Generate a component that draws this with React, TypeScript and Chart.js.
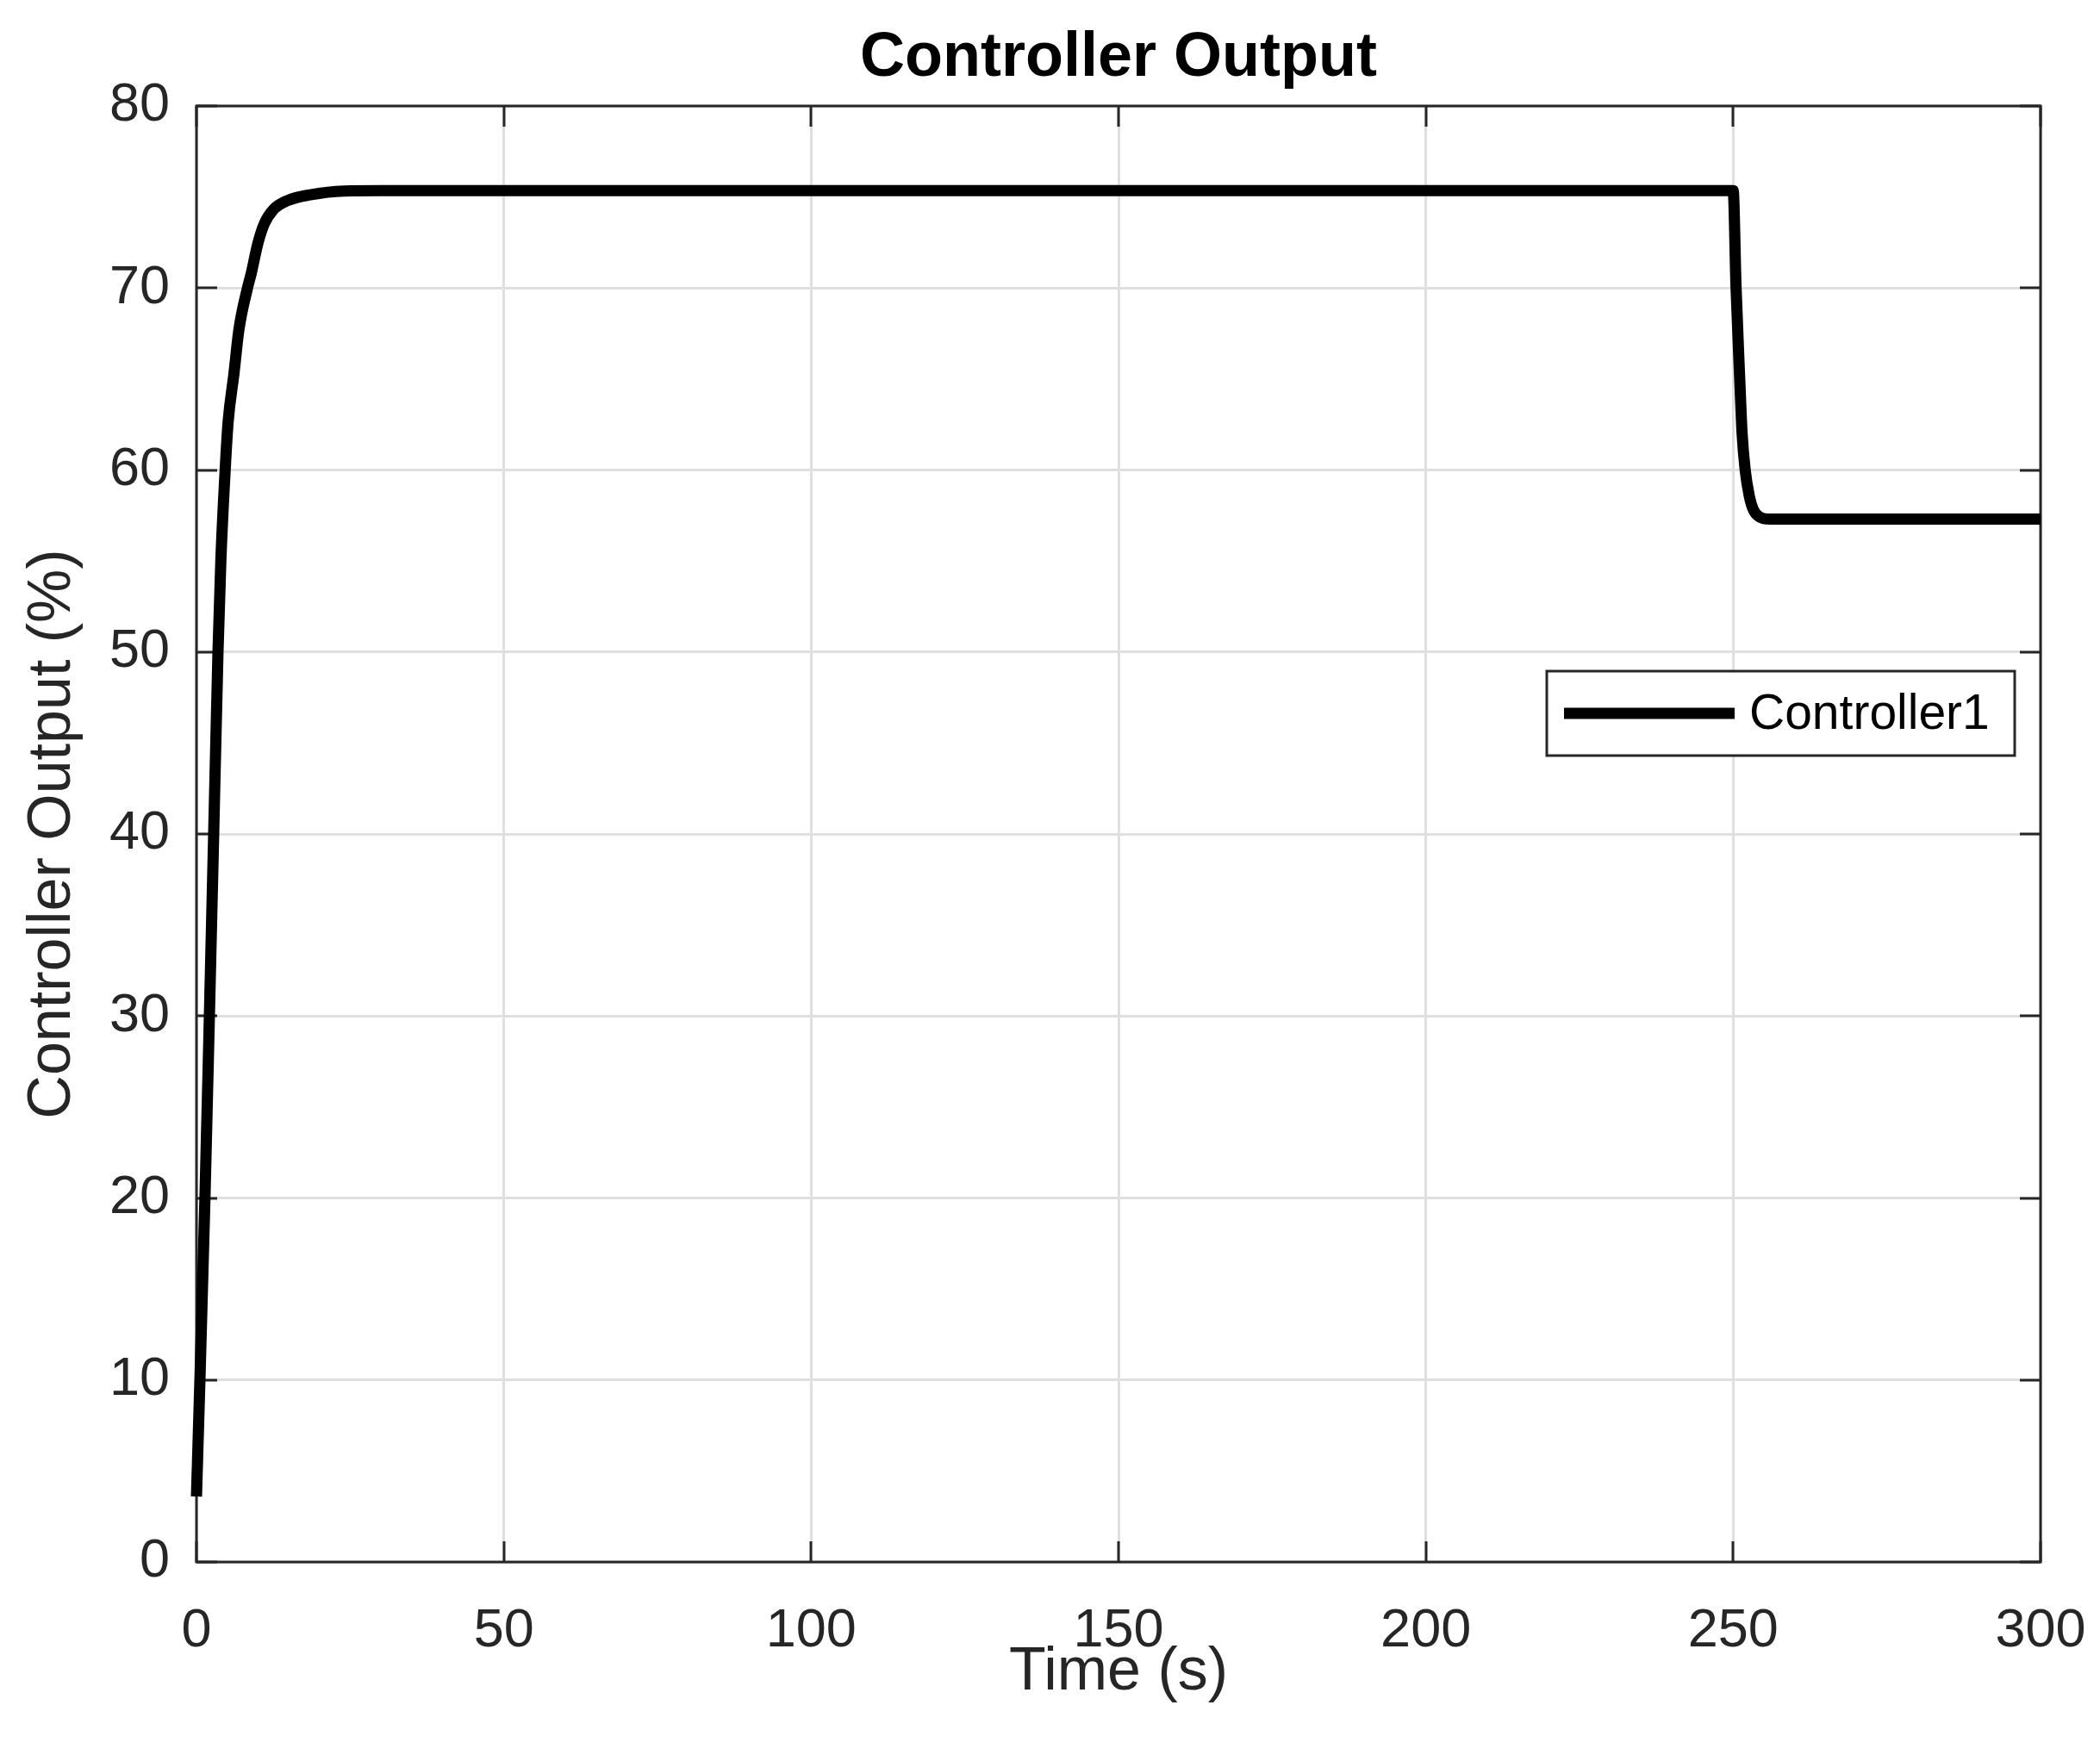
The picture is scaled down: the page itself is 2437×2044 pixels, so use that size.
import React, { useEffect, useRef } from "react";
import { Chart, registerables } from "chart.js";

Chart.register(...registerables);

// ---- Data ----
const timeSeconds = [
  0, 0.56, 1.38, 2.1, 2.8, 3.5, 3.97, 4.67, 5.14, 6.1, 6.9, 8.3, 8.93, 9.95, 11.0, 12.5,
  14.8, 18.5, 24, 30, 250, 250.46, 251.1, 251.45, 251.95, 252.6, 253.3, 254.3, 256, 300,
];
const controllerOutput = [
  3.6, 10, 20, 30, 40, 50, 55.05, 60, 62.6, 65.3, 67.7, 70, 70.83, 72.4, 73.5, 74.3,
  74.8, 75.12, 75.33, 75.35, 75.35, 70.06, 64.7, 62.0, 60.0, 58.6, 57.8, 57.42, 57.3, 57.3,
];
const xTickValues = [0, 50, 100, 150, 200, 250, 300];
const yTickValues = [0, 10, 20, 30, 40, 50, 60, 70, 80];
const seriesLabel = "Controller1";
const chartTitle = "Controller Output";
const xAxisTitle = "Time (s)";
const yAxisTitle = "Controller Output (%)";

const FONT = "'Liberation Sans', Arial, Helvetica, sans-serif";
const AXIS_COLOR = "#262626";
const GRID_COLOR = "#dfdfdf";

const framePlugin = {
  id: "matlabFrame",
  beforeDatasetsDraw(chart: any) {
    const { ctx, chartArea: a, scales } = chart;
    const L = 24;
    ctx.save();
    ctx.strokeStyle = AXIS_COLOR;
    ctx.lineWidth = 3;
    ctx.beginPath();
    for (const v of xTickValues) {
      const px = Math.round(scales.x.getPixelForValue(v));
      ctx.moveTo(px, a.bottom);
      ctx.lineTo(px, a.bottom - L);
      ctx.moveTo(px, a.top);
      ctx.lineTo(px, a.top + L);
    }
    for (const v of yTickValues) {
      const py = Math.round(scales.y.getPixelForValue(v));
      ctx.moveTo(a.left, py);
      ctx.lineTo(a.left + L, py);
      ctx.moveTo(a.right, py);
      ctx.lineTo(a.right - L, py);
    }
    ctx.stroke();
    ctx.strokeRect(a.left, a.top, a.right - a.left, a.bottom - a.top);
    ctx.restore();
  },
};

const legendPlugin = {
  id: "matlabLegend",
  afterDatasetsDraw(chart: any) {
    const { ctx } = chart;
    const ds = chart.data.datasets[0];
    const box = { left: 1795, top: 779, right: 2338, bottom: 877 };
    ctx.save();
    ctx.fillStyle = "#ffffff";
    ctx.fillRect(box.left, box.top, box.right - box.left, box.bottom - box.top);
    ctx.strokeStyle = AXIS_COLOR;
    ctx.lineWidth = 3;
    ctx.strokeRect(box.left, box.top, box.right - box.left, box.bottom - box.top);
    const cy = (box.top + box.bottom) / 2;
    ctx.strokeStyle = ds.borderColor;
    ctx.lineWidth = ds.borderWidth;
    ctx.lineCap = "butt";
    ctx.beginPath();
    ctx.moveTo(1815, cy);
    ctx.lineTo(2013, cy);
    ctx.stroke();
    ctx.fillStyle = "#000000";
    ctx.font = `57px ${FONT}`;
    ctx.textAlign = "left";
    ctx.textBaseline = "middle";
    ctx.fillText(ds.label, 2030, cy + 2);
    ctx.restore();
  },
};

export default function App() {
  const canvasRef = useRef<HTMLCanvasElement | null>(null);

  useEffect(() => {
    const canvas = canvasRef.current;
    if (!canvas) return;
    const points = timeSeconds.map((t, i) => ({ x: t, y: controllerOutput[i] }));
    const chart = new Chart(canvas, {
      type: "line",
      data: {
        datasets: [
          {
            label: seriesLabel,
            data: points,
            borderColor: "#000000",
            backgroundColor: "#000000",
            borderWidth: 13,
            pointRadius: 0,
            borderJoinStyle: "round",
            borderCapStyle: "butt",
            cubicInterpolationMode: "monotone",
            clip: false as any,
          },
        ],
      },
      options: {
        animation: false,
        responsive: false,
        devicePixelRatio: 1,
        layout: { padding: { left: 0, right: 69, top: 0, bottom: 0 } },
        plugins: {
          legend: { display: false },
          tooltip: { enabled: false },
          title: {
            display: true,
            fullSize: false,
            text: chartTitle,
            color: "#000000",
            font: { family: FONT, size: 72, weight: "bold" },
            padding: { top: 25, bottom: 11.6 },
          },
        },
        scales: {
          x: {
            type: "linear",
            min: 0,
            max: 300,
            afterBuildTicks: (scale: any) => {
              scale.ticks = xTickValues.map((v) => ({ value: v }));
            },
            afterFit: (scale: any) => {
              scale.height = 231;
              scale.paddingLeft = 0;
              scale.paddingRight = 0;
            },
            ticks: {
              color: AXIS_COLOR,
              font: { family: FONT, size: 63 },
              padding: 43,
              maxRotation: 0,
              autoSkip: false,
            },
            grid: { color: GRID_COLOR, lineWidth: 3, drawTicks: false },
            border: { display: false },
            title: {
              display: true,
              text: xAxisTitle,
              color: AXIS_COLOR,
              font: { family: FONT, size: 70 },
              padding: { top: 60, bottom: 60 },
            },
          },
          y: {
            type: "linear",
            min: 0,
            max: 80,
            afterBuildTicks: (scale: any) => {
              scale.ticks = yTickValues.map((v) => ({ value: v }));
            },
            afterFit: (scale: any) => {
              scale.width = 228;
            },
            ticks: {
              color: AXIS_COLOR,
              font: { family: FONT, size: 63 },
              padding: 31,
              autoSkip: false,
            },
            grid: { color: GRID_COLOR, lineWidth: 3, drawTicks: false },
            border: { display: false },
            title: {
              display: true,
              text: yAxisTitle,
              color: AXIS_COLOR,
              font: { family: FONT, size: 70 },
              padding: { top: 20, bottom: 20 },
            },
          },
        },
      },
      plugins: [framePlugin, legendPlugin],
    } as any);
    return () => chart.destroy();
  }, []);

  return (
    <div style={{ position: "absolute", left: 0, top: 0, width: 2437, height: 2044, background: "#ffffff" }}>
      <canvas ref={canvasRef} width={2437} height={2044} style={{ display: "block", width: 2437, height: 2044 }} />
    </div>
  );
}
